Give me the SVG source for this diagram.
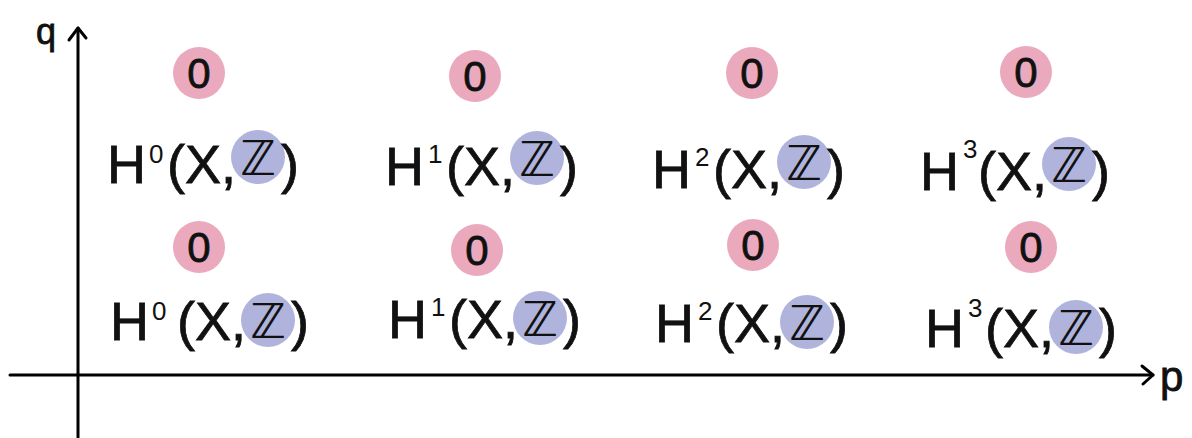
<svg xmlns="http://www.w3.org/2000/svg" width="1192" height="438" viewBox="0 0 1192 438">
<style>
.t{font-family:"Liberation Sans","DejaVu Sans",sans-serif;fill:#111;stroke:#111;stroke-width:0.8;font-size:54px}
.s{font-family:"Liberation Sans","DejaVu Sans",sans-serif;fill:#111;font-size:26px}
.z{font-family:"DejaVu Sans","Liberation Sans",sans-serif;fill:#111;font-size:48px;text-anchor:middle}
.o{font-family:"Liberation Sans","DejaVu Sans",sans-serif;fill:#111;stroke:#111;stroke-width:0.8;font-size:42px;text-anchor:middle}
.pk{fill:#eaa9bd}
.bl{fill:#b0b4dd}
.ax{stroke:#000;stroke-width:3;fill:none;stroke-linecap:round;stroke-linejoin:round}
</style>
<rect width="1192" height="438" fill="#fff"/>
<g id="axes" class="ax">
<path d="M78 438 L78 28"/>
<path d="M69 40 L78 28 L86 38"/>
<path d="M10 375 L1153 375"/>
<path d="M1142 366 L1153 375 L1143 384"/>
</g>
<text class="t" x="36" y="44" style="font-size:36px">q</text>
<text class="t" x="1160" y="391" style="font-size:42px">p</text>
<g id="zeros">
<circle class="pk" cx="199" cy="73" r="26"/><text class="o" x="199" y="88">0</text>
<circle class="pk" cx="475" cy="76" r="26"/><text class="o" x="475" y="91">0</text>
<circle class="pk" cx="752" cy="73" r="26"/><text class="o" x="752" y="88">0</text>
<circle class="pk" cx="1026" cy="72" r="26"/><text class="o" x="1026" y="87">0</text>
<circle class="pk" cx="199" cy="247" r="26"/><text class="o" x="199" y="262">0</text>
<circle class="pk" cx="477" cy="250" r="26"/><text class="o" x="477" y="265">0</text>
<circle class="pk" cx="753" cy="245" r="26"/><text class="o" x="753" y="260">0</text>
<circle class="pk" cx="1031" cy="247" r="26"/><text class="o" x="1031" y="262">0</text>
</g>
<g id="h0-top"><circle class="bl" cx="258" cy="157" r="27"/><text class="t" x="107" y="183">H</text><text class="s" x="149" y="163">0</text><text class="t" x="236" y="183" text-anchor="end">(X,</text><text class="z" x="258" y="175">ℤ</text><text class="t" x="281" y="183">)</text></g>
<g id="h1-top"><circle class="bl" cx="537" cy="158" r="27"/><text class="t" x="385" y="185">H</text><text class="s" x="428" y="163">1</text><text class="t" x="515" y="185" text-anchor="end">(X,</text><text class="z" x="537" y="176">ℤ</text><text class="t" x="560" y="185">)</text></g>
<g id="h2-top"><circle class="bl" cx="804" cy="162" r="27"/><text class="t" x="652" y="188">H</text><text class="s" x="695" y="166">2</text><text class="t" x="782" y="188" text-anchor="end">(X,</text><text class="z" x="804" y="180">ℤ</text><text class="t" x="827" y="188">)</text></g>
<g id="h3-top"><circle class="bl" cx="1069" cy="164" r="27"/><text class="t" x="920" y="190">H</text><text class="s" x="963" y="158">3</text><text class="t" x="1047" y="190" text-anchor="end">(X,</text><text class="z" x="1069" y="182">ℤ</text><text class="t" x="1092" y="190">)</text></g>
<g id="h0-bot"><circle class="bl" cx="268" cy="320" r="27"/><text class="t" x="110" y="340">H</text><text class="s" x="152" y="320">0</text><text class="t" x="246" y="340" text-anchor="end">(X,</text><text class="z" x="268" y="338">ℤ</text><text class="t" x="291" y="340">)</text></g>
<g id="h1-bot"><circle class="bl" cx="540" cy="318" r="27"/><text class="t" x="388" y="338">H</text><text class="s" x="431" y="316">1</text><text class="t" x="518" y="338" text-anchor="end">(X,</text><text class="z" x="540" y="336">ℤ</text><text class="t" x="563" y="338">)</text></g>
<g id="h2-bot"><circle class="bl" cx="807" cy="322" r="27"/><text class="t" x="655" y="342">H</text><text class="s" x="698" y="320">2</text><text class="t" x="785" y="342" text-anchor="end">(X,</text><text class="z" x="807" y="340">ℤ</text><text class="t" x="830" y="342">)</text></g>
<g id="h3-bot"><circle class="bl" cx="1076" cy="327" r="27"/><text class="t" x="925" y="347">H</text><text class="s" x="968" y="317">3</text><text class="t" x="1054" y="347" text-anchor="end">(X,</text><text class="z" x="1076" y="345">ℤ</text><text class="t" x="1099" y="347">)</text></g>
</svg>
